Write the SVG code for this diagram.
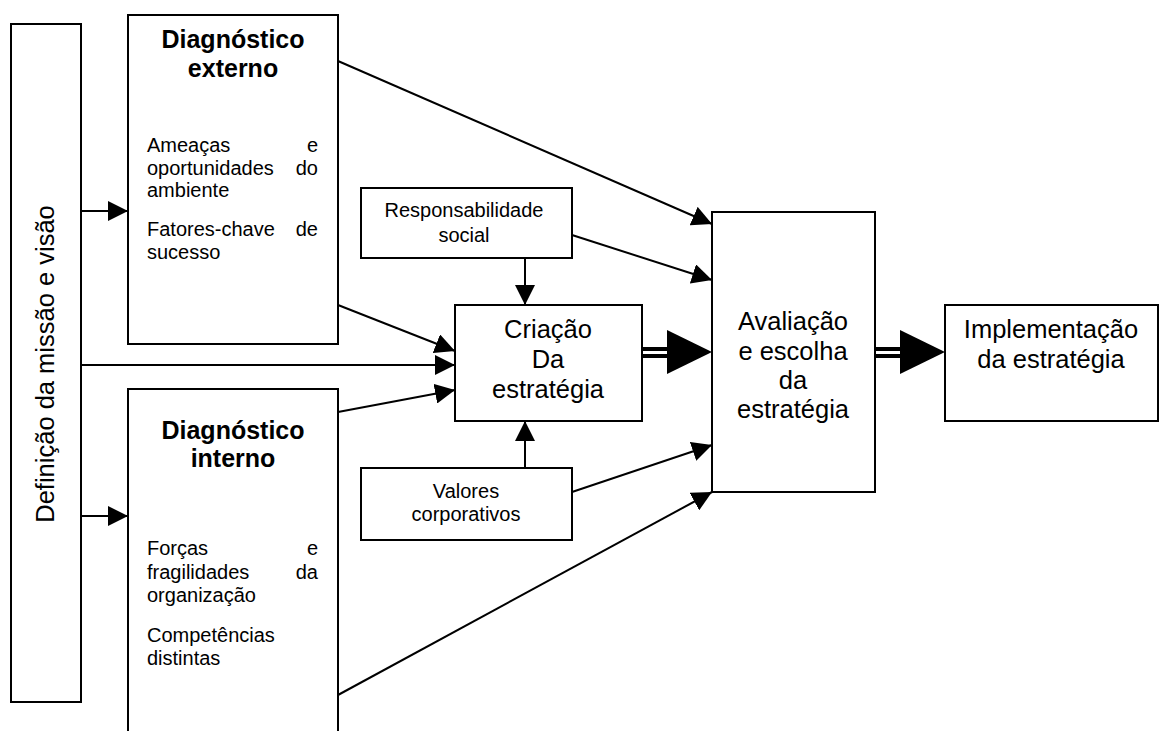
<svg xmlns="http://www.w3.org/2000/svg" width="1169" height="731" viewBox="0 0 1169 731">
  <style>
    .box { fill: #ffffff; stroke: #000000; stroke-width: 2; }
    .line { fill: none; stroke: #000000; stroke-width: 2; }
    .title { font-family: "Liberation Sans", Arial, sans-serif; font-size: 25px; font-weight: bold; fill: #000000; text-anchor: middle; }
    .body { font-family: "Liberation Sans", Arial, sans-serif; font-size: 20px; fill: #000000; }
    .big { font-family: "Liberation Sans", Arial, sans-serif; font-size: 25.5px; fill: #000000; text-anchor: middle; }
    .mid { font-family: "Liberation Sans", Arial, sans-serif; font-size: 20px; fill: #000000; text-anchor: middle; }
    .end { text-anchor: end; }
  </style>
  <defs>
    <marker id="head" markerUnits="userSpaceOnUse" markerWidth="20" markerHeight="20" refX="20" refY="10" orient="auto" viewBox="0 0 20 20">
      <path d="M0,0 L20,10 L0,20 Z" fill="#000000"/>
    </marker>
  </defs>

  <rect width="1169" height="731" fill="#ffffff"/>

  <!-- connectors -->
  <g id="connectors">
    <line class="line" x1="81" y1="211" x2="128" y2="211" marker-end="url(#head)"/>
    <line class="line" x1="81" y1="516" x2="128" y2="516" marker-end="url(#head)"/>
    <line class="line" x1="81" y1="365" x2="455" y2="365" marker-end="url(#head)"/>
    <line class="line" x1="338" y1="305" x2="455" y2="351" marker-end="url(#head)"/>
    <line class="line" x1="338" y1="412" x2="455" y2="390" marker-end="url(#head)"/>
    <line class="line" x1="525" y1="258" x2="525" y2="305" marker-end="url(#head)"/>
    <line class="line" x1="525" y1="468" x2="525" y2="421" marker-end="url(#head)"/>
    <line class="line" x1="338" y1="61" x2="712" y2="224" marker-end="url(#head)"/>
    <line class="line" x1="572" y1="235" x2="712" y2="280" marker-end="url(#head)"/>
    <line class="line" x1="572" y1="492" x2="712" y2="445" marker-end="url(#head)"/>
    <line class="line" x1="338" y1="695" x2="712" y2="492" marker-end="url(#head)"/>
    <!-- double-shafted arrows -->
    <rect x="642" y="347" width="26" height="11" fill="#000000"/>
    <rect x="642" y="351" width="26" height="3" fill="#ffffff"/>
    <path d="M667,330 L712,352 L667,374 Z" fill="#000000"/>
    <rect x="875" y="347" width="26" height="11" fill="#000000"/>
    <rect x="875" y="351" width="26" height="3" fill="#ffffff"/>
    <path d="M900,330 L945,352 L900,374 Z" fill="#000000"/>
  </g>

  <g id="missao">
    <rect class="box" x="11" y="24" width="70" height="678"/>
    <text class="big" transform="translate(54,364) rotate(-90)" x="0" y="0">Definição da missão e visão</text>
  </g>

  <g id="diag-externo">
    <rect class="box" x="128" y="15" width="210" height="329"/>
    <text class="title" x="233" y="48">Diagnóstico</text>
    <text class="title" x="233" y="77">externo</text>
    <text class="body" x="147" y="152">Ameaças</text>
    <text class="body end" x="318" y="152">e</text>
    <text class="body" x="147" y="175">oportunidades</text>
    <text class="body end" x="318" y="175">do</text>
    <text class="body" x="147" y="197">ambiente</text>
    <text class="body" x="147" y="236">Fatores-chave</text>
    <text class="body end" x="318" y="236">de</text>
    <text class="body" x="147" y="259">sucesso</text>
  </g>

  <g id="diag-interno">
    <path class="box" d="M128,735 L128,389 L338,389 L338,735"/>
    <text class="title" x="233" y="439">Diagnóstico</text>
    <text class="title" x="233" y="467">interno</text>
    <text class="body" x="147" y="555">Forças</text>
    <text class="body end" x="318" y="555">e</text>
    <text class="body" x="147" y="579">fragilidades</text>
    <text class="body end" x="318" y="579">da</text>
    <text class="body" x="147" y="602">organização</text>
    <text class="body" x="147" y="642">Competências</text>
    <text class="body" x="147" y="665">distintas</text>
  </g>

  <g id="responsabilidade">
    <rect class="box" x="361" y="188" width="211" height="70"/>
    <text class="mid" x="464" y="217">Responsabilidade</text>
    <text class="mid" x="464" y="242">social</text>
  </g>

  <g id="valores">
    <rect class="box" x="361" y="468" width="211" height="72"/>
    <text class="mid" x="466" y="498">Valores</text>
    <text class="mid" x="466" y="521">corporativos</text>
  </g>

  <g id="criacao">
    <rect class="box" x="455" y="305" width="187" height="116"/>
    <text class="big" x="548" y="338">Criação</text>
    <text class="big" x="548" y="368">Da</text>
    <text class="big" x="548" y="398">estratégia</text>
  </g>

  <g id="avaliacao">
    <rect class="box" x="712" y="212" width="163" height="280"/>
    <text class="big" x="793" y="330">Avaliação</text>
    <text class="big" x="793" y="360">e escolha</text>
    <text class="big" x="793" y="389">da</text>
    <text class="big" x="793" y="418">estratégia</text>
  </g>

  <g id="implementacao">
    <rect class="box" x="945" y="305" width="213" height="116"/>
    <text class="big" x="1051" y="338">Implementação</text>
    <text class="big" x="1051" y="368">da estratégia</text>
  </g>
</svg>
